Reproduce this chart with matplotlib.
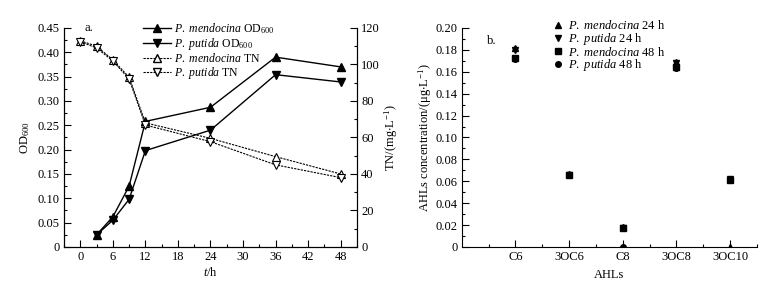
import matplotlib
matplotlib.use("Agg")
import matplotlib.pyplot as plt
from matplotlib.lines import Line2D
from matplotlib.ticker import MultipleLocator, FixedLocator

plt.rcParams['font.family'] = ['Liberation Serif', 'DejaVu Serif']
plt.rcParams['mathtext.fontset'] = 'custom'
plt.rcParams['mathtext.rm'] = 'Liberation Serif'
plt.rcParams['mathtext.it'] = 'Liberation Serif:italic'
plt.rcParams['mathtext.default'] = 'regular'
plt.rcParams['font.size'] = 9

# ---- Panel a data ----
t_od = [3, 6, 9, 12, 24, 36, 48]
od_mendocina = [0.025, 0.062, 0.125, 0.258, 0.287, 0.390, 0.370]
od_putida = [0.025, 0.055, 0.098, 0.198, 0.240, 0.354, 0.339]
t_tn = [0, 3, 6, 9, 12, 24, 36, 48]
tn_mendocina = [113.0, 110.0, 102.5, 93.0, 68.0, 59.5, 49.5, 40.0]
tn_putida = [112.5, 109.0, 102.0, 92.0, 66.8, 57.7, 45.0, 38.0]

# ---- Panel b data ----
ahls = ["C6", "3OC6", "C8", "3OC8", "3OC10"]
mend_24 = [0.182, 0.067, 0.018, 0.169, 0.000]
put_24 = [0.180, 0.066, 0.017, 0.168, 0.062]
mend_48 = [0.173, 0.066, 0.017, 0.164, 0.061]
put_48 = [0.172, 0.066, 0.000, 0.163, 0.061]

fig = plt.figure(figsize=(7.76, 2.88), dpi=100)

def style_ticks(a):
    a.tick_params(which='both', direction='in', labelsize=9, width=0.8, pad=3)
    a.tick_params(which='major', length=5)
    a.tick_params(which='minor', length=2.5)

# ---------------- Panel a ----------------
ax = fig.add_axes([0.0825, 0.1424, 0.3775, 0.7606])
ax2 = ax.twinx()
ax.plot(t_od, od_mendocina, '-', color='black', lw=1.0, marker='^', ms=5.5)
ax.plot(t_od, od_putida, '-', color='black', lw=1.0, marker='v', ms=5.5)
ax2.plot(t_tn, tn_mendocina, '--', color='black', lw=0.8, marker='^', ms=5.5,
         mfc='white', mec='black', mew=0.8, dashes=(2, 1))
ax2.plot(t_tn, tn_putida, '--', color='black', lw=0.8, marker='v', ms=5.5,
         mfc='white', mec='black', mew=0.8, dashes=(2, 1))
ax.set_xlim(-3, 51)
ax.set_ylim(0, 0.45)
ax2.set_ylim(0, 120)
ax.xaxis.set_major_locator(MultipleLocator(6))
ax.xaxis.set_minor_locator(MultipleLocator(3))
ax.yaxis.set_minor_locator(MultipleLocator(0.025))
ax2.yaxis.set_major_locator(MultipleLocator(20))
ax2.yaxis.set_minor_locator(MultipleLocator(10))
ax.set_yticks([0, 0.05, 0.10, 0.15, 0.20, 0.25, 0.30, 0.35, 0.40, 0.45])
ax.set_yticklabels(['0', '0.05', '0.10', '0.15', '0.20', '0.25', '0.30', '0.35', '0.40', '0.45'])
for a in (ax, ax2):
    a.spines['top'].set_visible(False)
    style_ticks(a)
ax.set_xlabel(r'$\it{t}$/h', fontsize=9, labelpad=2)
ax.set_ylabel(r'OD$_{600}$', fontsize=9, labelpad=4)
ax2.set_ylabel(r'TN/(mg$\cdot$L$^{-1}$)', fontsize=9, labelpad=2)
ax.text(0.07, 1.0, 'a.', transform=ax.transAxes, fontsize=9, va='center')

handles_a = [
    Line2D([], [], color='black', lw=1.0, marker='^', ms=5.5),
    Line2D([], [], color='black', lw=1.0, marker='v', ms=5.5),
    Line2D([], [], color='black', lw=0.8, ls='--', dashes=(2, 1), marker='^', ms=5.5, mfc='white'),
    Line2D([], [], color='black', lw=0.8, ls='--', dashes=(2, 1), marker='v', ms=5.5, mfc='white'),
]
labels_a = [r'$\it{P.}$ $\it{mendocina}$ OD$_{600}$', r'$\it{P.}$ $\it{putida}$ OD$_{600}$',
            r'$\it{P.}$ $\it{mendocina}$ TN', r'$\it{P.}$ $\it{putida}$ TN']
ax.legend(handles_a, labels_a, loc='upper left', bbox_to_anchor=(0.27, 1.03), frameon=False,
          fontsize=8.5, handlelength=2.4, handletextpad=0.2, labelspacing=0.0,
          borderaxespad=0, borderpad=0)

# ---------------- Panel b ----------------
bx = fig.add_axes([0.595, 0.1424, 0.3805, 0.7606])
xpos = list(range(1, len(ahls) + 1))
bx.plot(xpos, mend_24, ls='none', marker='^', color='black', ms=4.5)
bx.plot(xpos, put_24, ls='none', marker='v', color='black', ms=4.5)
bx.plot(xpos, mend_48, ls='none', marker='s', color='black', ms=4)
bx.plot(xpos, put_48, ls='none', marker='o', color='black', ms=4)
bx.set_xlim(0, 5.5)
bx.set_ylim(0, 0.20)
bx.set_xticks(xpos)
bx.set_xticklabels(ahls)
bx.xaxis.set_minor_locator(FixedLocator([0.5, 1.5, 2.5, 3.5, 4.5, 5.5]))
bx.set_yticks([0, 0.02, 0.04, 0.06, 0.08, 0.10, 0.12, 0.14, 0.16, 0.18, 0.20])
bx.set_yticklabels(['0', '0.02', '0.04', '0.06', '0.08', '0.10', '0.12', '0.14', '0.16', '0.18', '0.20'])
bx.yaxis.set_minor_locator(MultipleLocator(0.01))
bx.spines['top'].set_visible(False)
bx.spines['right'].set_visible(False)
style_ticks(bx)
bx.set_xlabel('AHLs', fontsize=9, labelpad=4)
bx.set_ylabel(r'AHLs concentration/($\mu$g$\cdot$L$^{-1}$)', fontsize=9, labelpad=1)
bx.text(0.085, 0.97, 'b.', transform=bx.transAxes, fontsize=9, va='top')

handles_b = [
    Line2D([], [], ls='none', marker='^', color='black', ms=4.5),
    Line2D([], [], ls='none', marker='v', color='black', ms=4.5),
    Line2D([], [], ls='none', marker='s', color='black', ms=4),
    Line2D([], [], ls='none', marker='o', color='black', ms=4),
]
labels_b = [r'$\it{P.}$ $\it{mendocina}$ 24 h', r'$\it{P.}$ $\it{putida}$ 24 h',
            r'$\it{P.}$ $\it{mendocina}$ 48 h', r'$\it{P.}$ $\it{putida}$ 48 h']
bx.legend(handles_b, labels_b, loc='upper left', bbox_to_anchor=(0.31, 1.04), frameon=False,
          fontsize=9, handlelength=0.8, handletextpad=0.4, labelspacing=-0.1,
          borderaxespad=0, borderpad=0)

fig.savefig('out.png', dpi=100, facecolor='white')
